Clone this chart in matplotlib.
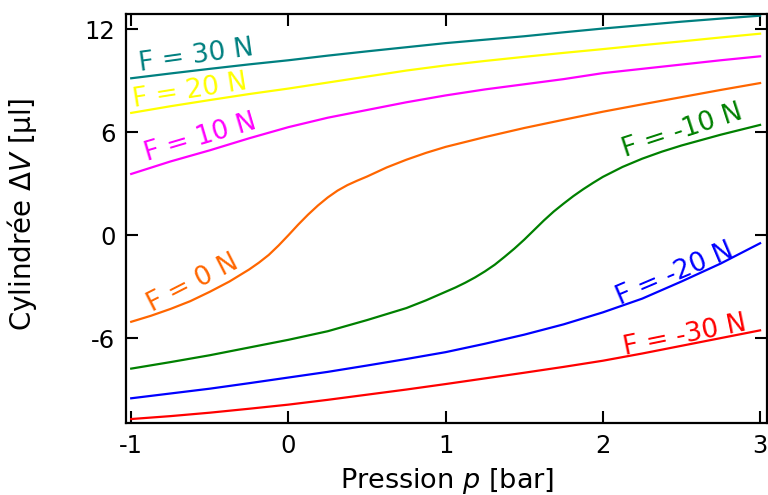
import matplotlib
matplotlib.use("Agg")
import matplotlib.pyplot as plt

# ---- data ----
p_grid = [-1, -0.75, -0.5, -0.25, 0, 0.25, 0.5, 0.75, 1, 1.25, 1.5, 1.75, 2, 2.25, 2.5, 2.75, 3]

v_f30 = [9.15, 9.43, 9.7, 9.96, 10.2, 10.47, 10.72, 10.96, 11.2, 11.4, 11.6, 11.83, 12.05, 12.25, 12.45, 12.63, 12.8]
v_f20 = [7.13, 7.52, 7.88, 8.23, 8.55, 8.9, 9.25, 9.6, 9.9, 10.16, 10.4, 10.63, 10.85, 11.08, 11.3, 11.53, 11.75]
v_f10 = [3.57, 4.3, 4.95, 5.65, 6.3, 6.85, 7.3, 7.75, 8.15, 8.5, 8.8, 9.1, 9.45, 9.7, 9.95, 10.2, 10.43]

p_f0 = [-1, -0.875, -0.75, -0.625, -0.5, -0.375, -0.25, -0.1875, -0.125, -0.0625, 0, 0.0625, 0.125,
        0.1875, 0.25, 0.3125, 0.375, 0.4375, 0.5, 0.625, 0.75, 0.875, 1, 1.25, 1.5, 1.75, 2, 2.25,
        2.5, 2.75, 3]
v_f0 = [-5.05, -4.7, -4.3, -3.85, -3.3, -2.7, -2.0, -1.6, -1.15, -0.6, 0.0, 0.62, 1.2,
        1.73, 2.2, 2.6, 2.92, 3.18, 3.42, 3.95, 4.4, 4.8, 5.15, 5.72, 6.25, 6.73, 7.2, 7.63,
        8.05, 8.47, 8.87]

p_fm10 = [-1, -0.75, -0.5, -0.25, 0, 0.25, 0.5, 0.75, 0.875, 1, 1.0625, 1.125, 1.1875, 1.25, 1.3125,
          1.375, 1.4375, 1.5, 1.5625, 1.625, 1.6875, 1.75, 1.8125, 1.875, 1.9375, 2, 2.125, 2.25,
          2.375, 2.5, 2.75, 3]
v_fm10 = [-7.78, -7.4, -7.0, -6.55, -6.1, -5.6, -4.95, -4.25, -3.8, -3.3, -3.05, -2.77, -2.46, -2.11, -1.72,
          -1.26, -0.78, -0.26, 0.3, 0.86, 1.38, 1.84, 2.28, 2.68, 3.05, 3.4, 3.98, 4.46,
          4.87, 5.23, 5.86, 6.43]

v_fm20 = [-9.51, -9.23, -8.95, -8.63, -8.3, -7.97, -7.6, -7.22, -6.82, -6.33, -5.8, -5.2, -4.5, -3.7, -2.7, -1.65, -0.47]
v_fm30 = [-10.72, -10.55, -10.35, -10.12, -9.88, -9.6, -9.3, -9.0, -8.68, -8.35, -8.02, -7.68, -7.32, -6.9, -6.45, -6.0, -5.55]

labels = ["F = 30 N", "F = 20 N", "F = 10 N", "F = 0 N", "F = -10 N", "F = -20 N", "F = -30 N"]
colors = ["#008080", "#ffff00", "#ff00ff", "#ff6600", "#008000", "#0000ff", "#ff0000"]
label_pos = [(-0.945, 9.57, 8), (-0.983, 7.46, 9), (-0.9, 4.35, 16.5), (-0.87, -4.48, 27),
             (2.14, 4.58, 18), (2.11, -4.09, 23), (2.14, -7.0, 11.5)]

xticks = [-1, 0, 1, 2, 3]
yticks = [-6, 0, 6, 12]

series = [(p_grid, v_f30), (p_grid, v_f20), (p_grid, v_f10), (p_f0, v_f0),
          (p_fm10, v_fm10), (p_grid, v_fm20), (p_grid, v_fm30)]

fig = plt.figure(figsize=(7.68, 4.95), dpi=100)
ax = fig.add_axes([0.1647, 0.1455, 0.834, 0.8263])

for (px, vy), c in zip(series, colors):
    ax.plot(px, vy, color=c, lw=1.6, solid_joinstyle="round")

for lab, c, (x, y, r) in zip(labels, colors, label_pos):
    ax.text(x, y, lab, color=c, fontsize=19, rotation=r, rotation_mode="anchor",
            ha="left", va="baseline")

ax.set_xlim(-1.03, 3.044)
ax.set_ylim(-10.95, 12.9)
ax.set_xticks(xticks)
ax.set_yticks(yticks)
ax.set_xticklabels([str(t) for t in xticks])
ax.set_yticklabels([str(t) for t in yticks])
ax.tick_params(direction="in", length=8.5, width=1.5, labelsize=17.5, pad=8,
               top=True, right=True)
for s in ax.spines.values():
    s.set_linewidth(1.6)

ax.set_xlabel(r"Pression $p$ [bar]", fontsize=19.5)
ax.set_ylabel("Cylindrée " + r"$\mathit{\Delta V}$" + " [µl]", fontsize=20)
ax.xaxis.set_label_coords(0.5, -0.105)
ax.yaxis.set_label_coords(-0.136, 0.51)

fig.savefig("out.png", dpi=100)
